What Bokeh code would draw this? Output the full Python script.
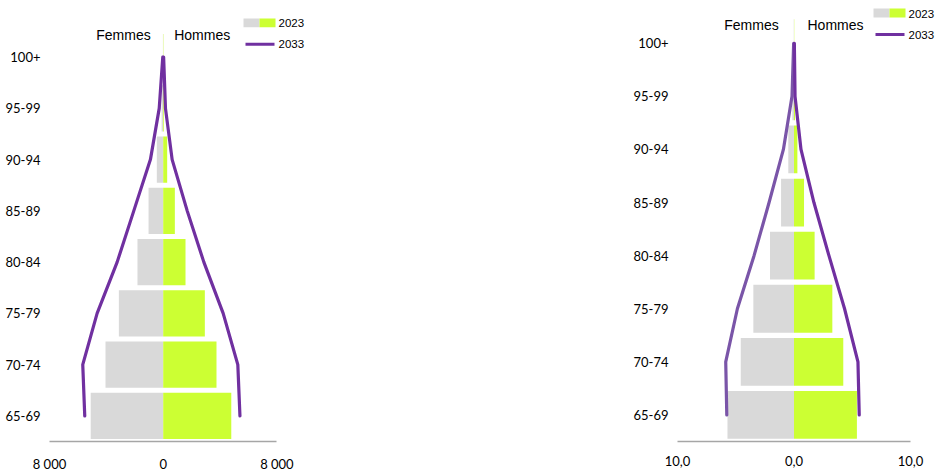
from bokeh.plotting import figure
from bokeh.models import Range1d, FixedTicker, Label, BoxAnnotation
from bokeh.layouts import row
from bokeh.embed import file_html
from bokeh.resources import INLINE

# ---- data ----
age_groups = ["65-69", "70-74", "75-79", "80-84", "85-89", "90-94", "95-99", "100+"]

# left chart : number of people
left_women_2023 = [5100, 4060, 3120, 1810, 1030, 450, 110, 20]
left_men_2023 = [4790, 3750, 2930, 1570, 820, 280, 50, 20]
left_women_2033 = [5520, 5660, 4650, 3240, 2070, 900, 280, 30]
left_men_2033 = [5400, 5250, 4220, 2860, 1690, 630, 160, 30]
left_ticks = [-8000, 0, 8000]
left_tick_labels = ["8 000", "0", "8 000"]

# right chart : share (%)
right_women_2023 = [5.71, 4.57, 3.49, 2.06, 1.11, 0.49, 0.14, 0.02]
right_men_2023 = [5.40, 4.23, 3.29, 1.77, 0.86, 0.29, 0.09, 0.02]
right_women_2033 = [5.77, 5.86, 4.86, 3.43, 2.14, 0.91, 0.17, 0.03]
right_men_2033 = [5.60, 5.49, 4.34, 3.00, 1.71, 0.60, 0.09, 0.03]
right_ticks = [-10, 0, 10]
right_tick_labels = ["10,0", "0,0", "10,0"]

GREY = "#D9D9D9"
GREEN = "#CCFF33"
PURPLE = "#7030A0"
PURPLE_LIGHT = "#7A55A8"
AXIS_FONT = "Lato"
TEXT_FONT = "Liberation Sans"

positions = list(range(len(age_groups)))


def pyramid(w23, m23, w33, m33, ticks, tick_labels, width, height,
            frame_left, frame_bottom, half_px, row_px, women_line_color,
            titles_xy, legend_xy):
    xmax = ticks[-1]
    frame_w = width - frame_left
    x_start = -xmax
    x_end = xmax * (frame_w - half_px) / half_px
    y_start = -0.5
    y_end = y_start + frame_bottom / row_px

    p = figure(width=width, height=height,
               x_range=Range1d(x_start, x_end), y_range=Range1d(y_start, y_end),
               output_backend="svg", toolbar_location=None,
               min_border_left=frame_left, min_border_right=0,
               min_border_top=0, min_border_bottom=height - frame_bottom)
    p.outline_line_color = None
    p.xgrid.visible = False
    p.ygrid.visible = False

    neg_w23 = [-v for v in w23]
    neg_w33 = [-v for v in w33]
    p.hbar(y=positions, left=neg_w23, right=0, height=0.9, fill_color=GREY, line_color=None)
    p.hbar(y=positions, left=0, right=m23, height=0.9, fill_color=GREEN, line_color=None)
    p.line(x=neg_w33, y=positions, line_color=women_line_color, line_width=3.2,
           line_cap="round", line_join="round")
    p.line(x=m33, y=positions, line_color=PURPLE, line_width=3.2,
           line_cap="round", line_join="round")

    # x axis
    xa = p.xaxis[0]
    xa.ticker = FixedTicker(ticks=ticks)
    xa.bounds = (ticks[0], ticks[-1])
    xa.major_label_overrides = {t: l for t, l in zip(ticks, tick_labels)}
    xa.axis_line_color = "#A6A6A6"
    xa.axis_line_width = 1.5
    xa.major_tick_line_color = None
    xa.minor_tick_line_color = None
    xa.major_tick_out = 0
    xa.major_tick_in = 0
    xa.major_label_standoff = 14
    xa.major_label_text_font = AXIS_FONT
    xa.major_label_text_font_size = "13px"
    xa.major_label_text_color = "#000000"

    # y axis (age groups)
    ya = p.yaxis[0]
    ya.ticker = FixedTicker(ticks=positions)
    ya.major_label_overrides = {i: g for i, g in zip(positions, age_groups)}
    ya.axis_line_color = None
    ya.major_tick_line_color = None
    ya.minor_tick_line_color = None
    ya.major_tick_out = 0
    ya.major_tick_in = 0
    ya.major_label_standoff = 9
    ya.major_label_text_font = AXIS_FONT
    ya.major_label_text_font_size = "13px"
    ya.major_label_text_color = "#000000"

    def X(dpx):  # pixels right of the zero line
        return dpx * xmax / half_px

    def Y(py):  # pixels below the top of the figure
        return y_end - py / row_px

    # titles
    (fx, hx, ty) = titles_xy
    for txt, dx in (("Femmes", fx), ("Hommes", hx)):
        p.add_layout(Label(x=X(dx), y=Y(ty), text=txt, text_align="center",
                           text_baseline="middle", text_font=TEXT_FONT,
                           text_font_size="14px", text_color="#000000"))

    # legend
    lx, ly = legend_xy
    p.add_layout(BoxAnnotation(left=X(lx), right=X(lx + 16), top=Y(ly), bottom=Y(ly + 9),
                               fill_color=GREY, fill_alpha=1, line_color=None))
    p.add_layout(BoxAnnotation(left=X(lx + 16), right=X(lx + 32), top=Y(ly), bottom=Y(ly + 9),
                               fill_color=GREEN, fill_alpha=1, line_color=None))
    p.add_layout(Label(x=X(lx + 35), y=Y(ly + 5), text="2023", text_baseline="middle",
                       text_font=TEXT_FONT, text_font_size="11.5px", text_color="#000000"))
    p.line(x=[X(lx + 2), X(lx + 31)], y=[Y(ly + 26), Y(ly + 26)], line_color=PURPLE,
           line_width=3)
    p.add_layout(Label(x=X(lx + 35), y=Y(ly + 26), text="2033", text_baseline="middle",
                       text_font=TEXT_FONT, text_font_size="11.5px", text_color="#000000"))
    return p


p1 = pyramid(left_women_2023, left_men_2023, left_women_2033, left_men_2033,
             left_ticks, left_tick_labels, width=620, height=476,
             frame_left=49, frame_bottom=444, half_px=113.7, row_px=51.6,
             women_line_color=PURPLE, titles_xy=(-39.7, 39, 35), legend_xy=(80.3, 18))

p2 = pyramid(right_women_2023, right_men_2023, right_women_2033, right_men_2033,
             right_ticks, right_tick_labels, width=315, height=476,
             frame_left=57, frame_bottom=441, half_px=116.5, row_px=53.1,
             women_line_color=PURPLE_LIGHT, titles_xy=(-42.5, 41.5, 24), legend_xy=(79.5, 8))

layout = row(p1, p2)
open("out.html", "w").write(file_html(layout, INLINE))
